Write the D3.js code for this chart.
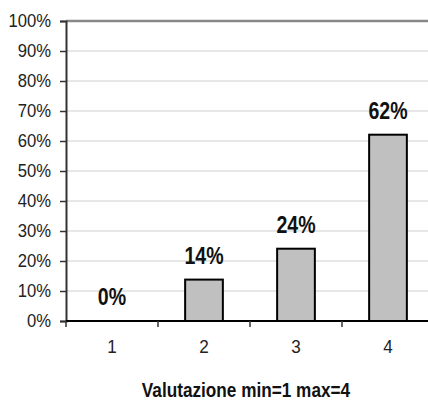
<!DOCTYPE html>
<html>
<head>
<meta charset="utf-8">
<script src="https://cdn.jsdelivr.net/npm/d3@7"></script>
<style>
  body { margin: 0; background: #fff; }
  text { font-family: "Liberation Sans", Arial, sans-serif; }
</style>
</head>
<body>
<svg width="428" height="401"></svg>
<script>
var categories = ["1", "2", "3", "4"];
var values = [0, 0.138, 0.241, 0.621];
var yTicks = [0, 0.1, 0.2, 0.3, 0.4, 0.5, 0.6, 0.7, 0.8, 0.9, 1];
var xTitle = "Valutazione min=1 max=4";

var svg = d3.select("svg"),
    plotLeft = 66, plotTop = 21, plotBottom = 321, plotRight = 434;

// squeeze text horizontally to mimic a narrow font
function narrow(sel, sx) {
    sel.each(function () {
        var t = d3.select(this), x0 = +t.attr("x") || 0;
        t.attr("x", x0 / sx).attr("transform", "scale(" + sx + ",1)");
    });
}

var x = d3.scaleBand()
    .domain(categories)
    .range([plotLeft, plotRight])
    .paddingInner(0.59)
    .paddingOuter(0.295);

var y = d3.scaleLinear()
    .domain([0, 1])
    .range([plotBottom, plotTop]);

var pct = d3.format(".0%");

// gridlines
svg.append("g").selectAll("line")
    .data(yTicks.slice(1))
    .enter().append("line")
    .attr("x1", plotLeft).attr("x2", 428)
    .attr("y1", function (d) { return y(d); })
    .attr("y2", function (d) { return y(d); })
    .attr("stroke", function (d) { return d === 1 ? "#888" : "#d0d0d0"; })
    .attr("stroke-width", function (d) { return d === 1 ? 2.5 : 1.2; });

// y axis
var yAxis = svg.append("g")
    .attr("transform", "translate(" + plotLeft + ",0)")
    .call(d3.axisLeft(y).tickValues(yTicks).tickFormat(pct).tickSizeOuter(0).tickSize(6).tickPadding(9));
yAxis.select(".domain").attr("stroke", "#333").attr("stroke-width", 2);
yAxis.selectAll(".tick line").attr("stroke", "#333").attr("stroke-width", 1.5);
yAxis.selectAll("text").attr("font-size", 18.5).attr("fill", "#222").call(narrow, 0.9);

// bars
svg.append("g").selectAll("rect")
    .data(values)
    .enter().append("rect")
    .attr("x", function (d, i) { return x(categories[i]); })
    .attr("y", function (d) { return y(d); })
    .attr("width", x.bandwidth())
    .attr("height", function (d) { return plotBottom - y(d); })
    .attr("fill", "#c0c0c0")
    .attr("stroke", "#000")
    .attr("stroke-width", 2)
    .style("display", function (d) { return d > 0 ? null : "none"; });

// x axis: ticks at category boundaries
var step = x.step();
var bounds = categories.map(function (c) { return x(c) - (step - x.bandwidth()) / 2; });
svg.append("line")
    .attr("x1", plotLeft).attr("x2", 428)
    .attr("y1", plotBottom).attr("y2", plotBottom)
    .attr("stroke", "#000").attr("stroke-width", 2);
svg.append("g").selectAll("line")
    .data(bounds)
    .enter().append("line")
    .attr("x1", function (d) { return d; }).attr("x2", function (d) { return d; })
    .attr("y1", plotBottom).attr("y2", plotBottom + 6)
    .attr("stroke", "#333").attr("stroke-width", 1.5);

svg.append("g").selectAll("text")
    .data(categories)
    .enter().append("text")
    .attr("x", function (d) { return x(d) + x.bandwidth() / 2; })
    .attr("y", 353)
    .attr("text-anchor", "middle")
    .attr("font-size", 19)
    .attr("fill", "#222")
    .text(function (d) { return d; })
    .call(narrow, 0.9);

// value labels
svg.append("g").selectAll("text")
    .data(values)
    .enter().append("text")
    .attr("x", function (d, i) { return x(categories[i]) + x.bandwidth() / 2; })
    .attr("y", function (d) { return y(d) - 16; })
    .attr("text-anchor", "middle")
    .attr("font-size", 23)
    .attr("font-weight", "bold")
    .attr("fill", "#111")
    .text(function (d) { return pct(d); })
    .call(narrow, 0.85);

svg.append("text")
    .attr("x", 246)
    .attr("y", 397)
    .attr("text-anchor", "middle")
    .attr("font-size", 20)
    .attr("font-weight", "bold")
    .attr("fill", "#111")
    .text(xTitle)
    .call(narrow, 0.86);
</script>
</body>
</html>
